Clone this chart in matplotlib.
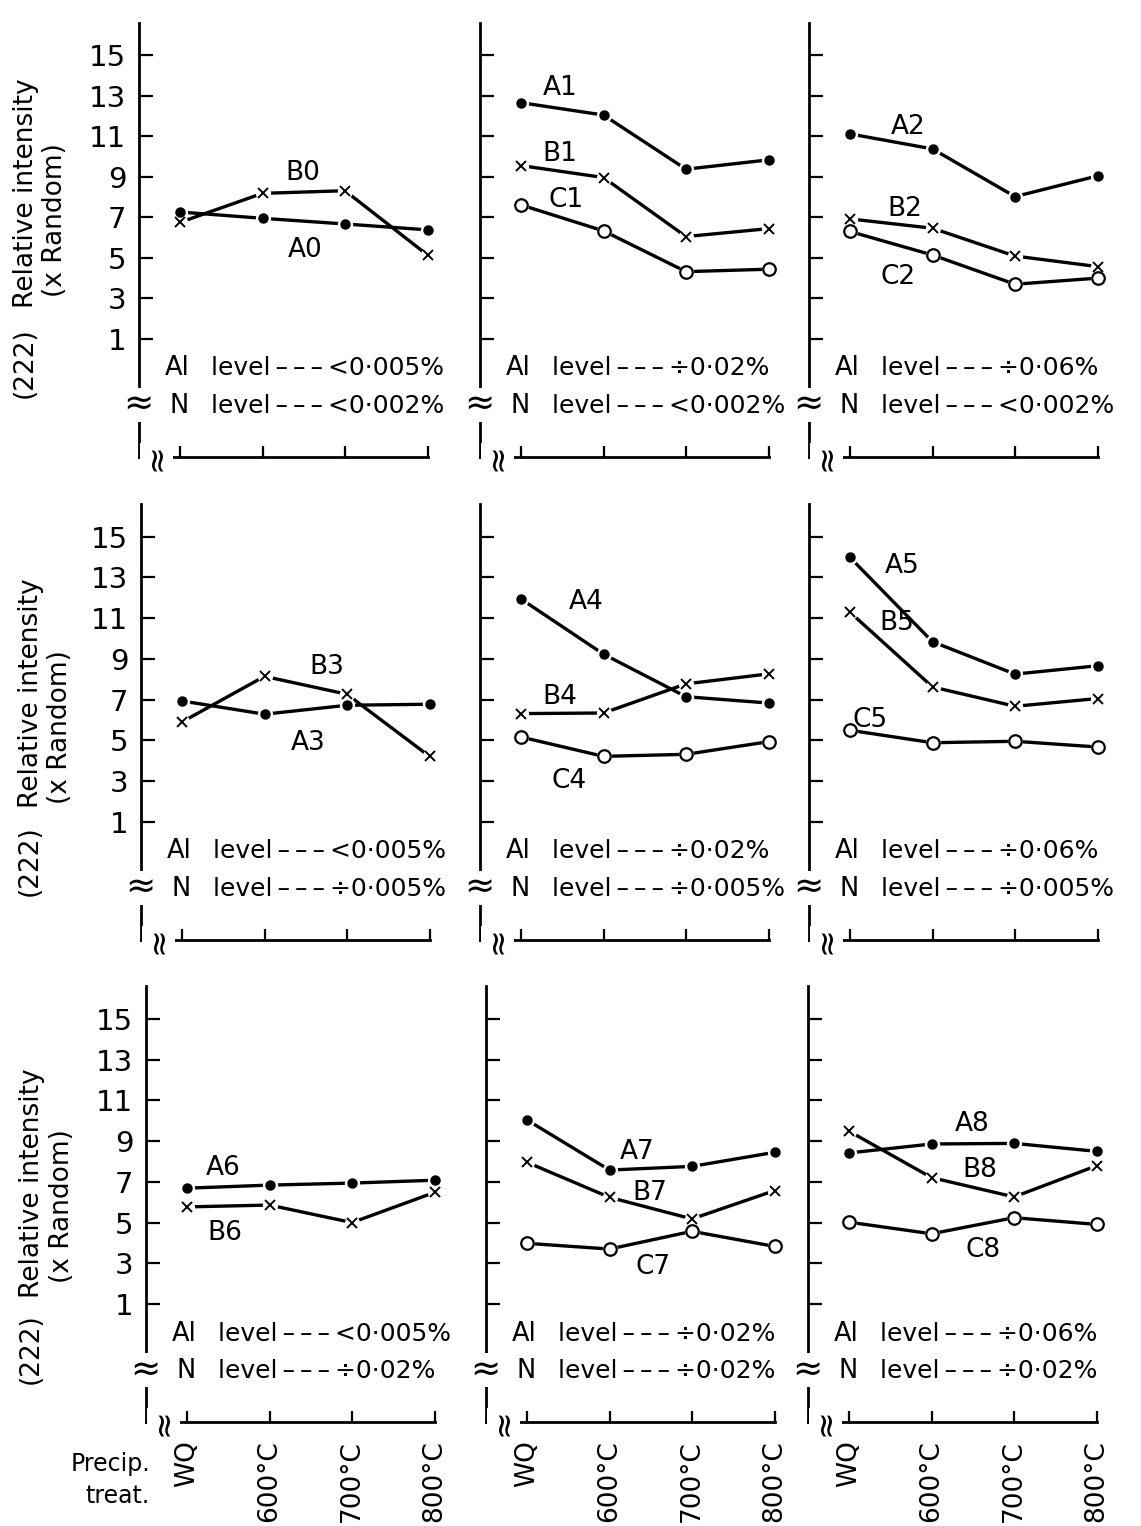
import matplotlib.pyplot as plt

plt.rcParams['font.family'] = ['DejaVu Sans']

# ---------------------------------------------------------------------
# Data: (222) relative intensity (x random)
# x positions: WQ, 600, 700, 800 degC precipitation treatment
# ---------------------------------------------------------------------
treat = ['WQ', '600°C', '700°C', '800°C']
yticks = [1, 3, 5, 7, 9, 11, 13, 15]

A0 = [7.26, 6.95, 6.67, 6.38]
B0 = [6.75, 8.18, 8.31, 5.14]

A1 = [12.65, 12.04, 9.37, 9.83]
B1 = [9.55, 8.96, 6.05, 6.44]
C1 = [7.61, 6.33, 4.32, 4.44]

A2 = [11.11, 10.37, 8.02, 9.04]
B2 = [6.92, 6.46, 5.09, 4.57]
C2 = [6.30, 5.14, 3.70, 4.00]

A3 = [6.93, 6.28, 6.72, 6.77]
B3 = [5.90, 8.14, 7.26, 4.21]

A4 = [11.94, 9.23, 7.14, 6.83]
B4 = [6.31, 6.34, 7.77, 8.26]
C4 = [5.16, 4.21, 4.31, 4.93]

A5 = [13.98, 9.84, 8.25, 8.66]
B5 = [11.29, 7.62, 6.67, 7.05]
C5 = [5.49, 4.88, 4.95, 4.67]

A6 = [6.69, 6.84, 6.94, 7.08]
B6 = [5.77, 5.86, 5.00, 6.48]

A7 = [10.04, 7.58, 7.76, 8.45]
B7 = [7.96, 6.24, 5.18, 6.57]
C7 = [3.98, 3.70, 4.57, 3.83]

A8 = [8.42, 8.86, 8.89, 8.50]
B8 = [9.49, 7.21, 6.26, 7.79]
C8 = [5.02, 4.45, 5.24, 4.91]

al_level = ['<0·005%', '÷0·02%', '÷0·06%']     # by column
n_level = ['<0·002%', '÷0·005%', '÷0·02%']     # by row

panels = [
    [[('A0', A0), ('B0', B0)],
     [('A1', A1), ('B1', B1), ('C1', C1)],
     [('A2', A2), ('B2', B2), ('C2', C2)]],
    [[('A3', A3), ('B3', B3)],
     [('A4', A4), ('B4', B4), ('C4', C4)],
     [('A5', A5), ('B5', B5), ('C5', C5)]],
    [[('A6', A6), ('B6', B6)],
     [('A7', A7), ('B7', B7), ('C7', C7)],
     [('A8', A8), ('B8', B8), ('C8', C8)]],
]

# where each series name sits (data coords)
label_pos = {
    'A0': (1.52, 5.39), 'B0': (1.49, 9.18),
    'A1': (0.47, 13.37), 'B1': (0.47, 10.12), 'C1': (0.55, 7.85),
    'A2': (0.70, 11.45), 'B2': (0.67, 7.41), 'C2': (0.58, 4.06),
    'A3': (1.53, 4.87), 'B3': (1.76, 8.6),
    'A4': (0.79, 11.8), 'B4': (0.47, 7.12), 'C4': (0.58, 2.99),
    'A5': (0.63, 13.56), 'B5': (0.57, 10.75), 'C5': (0.24, 6.0),
    'A6': (0.44, 7.68), 'B6': (0.46, 4.49),
    'A7': (1.33, 8.47), 'B7': (1.49, 6.45), 'C7': (1.53, 2.82),
    'A8': (1.49, 9.84), 'B8': (1.59, 7.58), 'C8': (1.62, 3.65),
}

marker_style = {
    'A': dict(marker='o', ms=6.5, mfc='black', mec='black', mew=1.0),
    'B': dict(marker='x', ms=7.5, mec='black', mew=1.4),
    'C': dict(marker='o', ms=9, mfc='white', mec='black', mew=1.6),
}

# ---------------------------------------------------------------------
# Layout (pixels of the 1141 x 1526 canvas)
# ---------------------------------------------------------------------
W, H = 1141, 1526
fig = plt.figure(figsize=(W / 100, H / 100), dpi=100)

XMIN, XMAX = -0.5, 3.5
YMIN, YMAX = -4.8, 16.6
ppu = 82.5                       # px per treatment step
row_t15 = [55, 536.7, 1019]      # px of the "15" tick per row
row_t1 = [339, 821.7, 1304]      # px of the "1" tick per row
wq_px = [[180, 521, 850], [182, 521, 850], [187, 527, 849]]

for r in range(3):
    scale = (row_t1[r] - row_t15[r]) / 14
    top = row_t15[r] - (YMAX - 15) * scale
    height = (YMAX - YMIN) * scale
    for c in range(3):
        left = wq_px[r][c] + XMIN * ppu
        width = (XMAX - XMIN) * ppu
        ax = fig.add_axes([left / W, 1 - (top + height) / H, width / W, height / H])
        ax.set_xlim(XMIN, XMAX)
        ax.set_ylim(YMIN, YMAX)
        ax.patch.set_alpha(0)

        for s in ('top', 'right'):
            ax.spines[s].set_visible(False)
        ax.spines['left'].set_linewidth(2.0)
        ax.spines['bottom'].set_linewidth(2.0)
        ax.spines['bottom'].set_bounds(XMIN, 3.0)

        ax.set_yticks(yticks)
        ax.tick_params(axis='y', direction='in', length=10, width=1.6,
                       labelsize=21, pad=9, labelleft=(c == 0))
        ax.set_xticks(range(len(treat)))
        ax.set_xticklabels(treat, rotation=90, va='top', ha='center')
        ax.tick_params(axis='x', direction='in', length=8, width=1.6,
                       labelsize=19, pad=13, labelbottom=(r == 2))

        # series: line, white gap discs, then the markers
        for name, vals in panels[r][c]:
            ax.plot(range(len(vals)), vals, color='black', lw=2.4, zorder=2)
        for name, vals in panels[r][c]:
            ax.plot(range(len(vals)), vals, ls='none', marker='o', ms=11,
                    mfc='white', mec='none', zorder=3)
        for name, vals in panels[r][c]:
            ax.plot(range(len(vals)), vals, ls='none', color='black',
                    zorder=4, **marker_style[name[0]])
            lx, ly = label_pos[name]
            ax.text(lx, ly, name, fontsize=19, ha='center', va='center')

        # composition text
        ax.text(XMIN + 26 / ppu, -0.45, 'Al', fontsize=18.5, va='center')
        ax.text(XMIN + 31 / ppu, -2.3, 'N', fontsize=18.5, va='center')
        for y, val in ((-0.45, al_level[c]), (-2.3, n_level[r])):
            ax.text(XMIN + 72 / ppu, y, 'level\u2009–\u2009–\u2009–\u2009' + val,
                    fontsize=18, va='center')

        # axis breaks
        ax.text(XMIN, -2.25, '≈', fontsize=26, ha='center', va='center',
                bbox=dict(boxstyle='square,pad=0.0', fc='white', ec='none'),
                zorder=5)
        ax.text(-0.29, YMIN, '≈', fontsize=24, rotation=90, ha='center',
                va='center',
                bbox=dict(boxstyle='square,pad=0.0', fc='white', ec='none'),
                zorder=5, clip_on=False)

    # y-axis caption for the row
    off = [(138, 165, 308), (156, 190, 324), (164, 187, 330)][r]
    xs = [(26, 55, 25), (31, 60, 30), (32, 62, 31)][r]
    for txt, dy, dx in (('Relative intensity', off[0], xs[0]),
                        ('(x Random)', off[1], xs[1]),
                        ('(222)', off[2], xs[2])):
        fig.text(dx / W, 1 - (row_t15[r] + dy) / H, txt, rotation=90,
                 fontsize=19, ha='center', va='center')

fig.text(150 / W, 1 - 1480 / H, 'Precip.\ntreat.', fontsize=17,
         ha='right', va='center', multialignment='right', linespacing=1.4)

fig.savefig('out.png', dpi=100)
